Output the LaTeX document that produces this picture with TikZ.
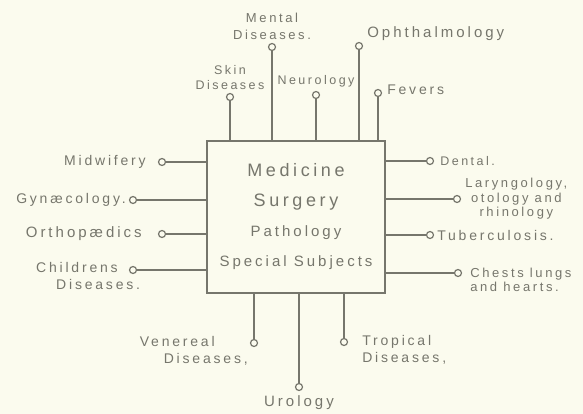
\documentclass[tikz,border=0pt]{standalone}
\usepackage{fontspec}
\setmainfont[LetterSpace=20]{Liberation Sans}
\usetikzlibrary{positioning}
\definecolor{paper}{RGB}{251,251,238}
\definecolor{ink}{RGB}{118,118,108}

\begin{document}
\begin{tikzpicture}[
  x=1pt, y=-1pt,
  node distance=2pt,
  every node/.style={text=ink},
  core/.style={draw=ink, line width=1.4pt, minimum width=178pt, minimum height=152pt, align=center, inner sep=0pt, font=\fontsize{18}{30}\selectfont},
  knob/.style={draw=ink, fill=paper, circle, line width=1.2pt, inner sep=0pt, minimum size=7pt},
  wire/.style={draw=ink, line width=1.4pt},
  big/.style={font=\fontsize{15}{18}\selectfont, inner sep=0pt},
  mid/.style={font=\fontsize{14}{17}\selectfont, inner sep=0pt},
  small/.style={font=\fontsize{12.5}{15}\selectfont, inner sep=0pt},
]
  \fill[paper, use as bounding box] (0,0) rectangle (583,414);
  % the four main subjects
  \node[core] (core) at (296,217) {Medicine\\Surgery\\{\fontsize{15}{30}\selectfont Pathology}\\{\fontsize{15}{30}\selectfont Special Subjects}};
  % top branches
  \node[knob] (skin)   at (230,97) {};
  \node[knob] (mental) at (272,47) {};
  \node[knob] (neuro)  at (316,95) {};
  \node[knob] (ophth)  at (359,46) {};
  \node[knob] (fevers) at (378,93) {};
  \node[small, align=center, above=3pt of skin] (skinT) {Skin\\Diseases};
  \node[small, align=center, above=3pt of mental, font=\fontsize{13}{17}\selectfont] (mentalT) {Mental\\Diseases.};
  \node[small, above=4pt of neuro] (neuroT) {Neurology};
  \node[big, right=4pt of ophth, yshift=12pt] (ophthT) {Ophthalmology};
  \node[mid, right=5pt of fevers, yshift=3pt] (feversT) {Fevers};
  % left branches
  \node[knob] (midwif) at (162,162) {};
  \node[knob] (gynae)  at (133,200) {};
  \node[knob] (ortho)  at (162,234) {};
  \node[knob] (child)  at (133,270) {};
  \node[mid, left=12pt of midwif] (midwifT) {Midwifery};
  \node[mid, left=3pt of gynae] (gynaeT) {Gynæcology.};
  \node[big, left=16pt of ortho] (orthoT) {Orthopædics};
  \node[mid, align=left, anchor=north west] (childT) at (36,262) {Childrens\\\hspace*{20pt}Diseases.};
  % right branches
  \node[knob] (dental) at (430,161) {};
  \node[knob] (laryn)  at (457,199) {};
  \node[knob] (tuber)  at (430,235) {};
  \node[knob] (chest)  at (458,273) {};
  \node[small, right=6pt of dental] (dentalT) {Dental.};
  \node[small, align=center, right=4pt of laryn, font=\fontsize{13}{14.5}\selectfont] (larynT) {Laryngology,\\otology and\\rhinology};
  \node[mid, right=3pt of tuber] (tuberT) {Tuberculosis.};
  \node[small, align=left, right=8pt of chest, yshift=-7pt, font=\fontsize{13}{14}\selectfont] (chestT) {Chests lungs\\and hearts.};
  % bottom branches
  \node[knob] (vener)  at (254,343) {};
  \node[knob] (urol)   at (299,387) {};
  \node[knob] (tropic) at (344,342) {};
  \node[mid, align=left, left=2pt of vener, yshift=-8pt] (venerT) {Venereal\\\hspace*{24pt}Diseases,};
  \node[big, below=4pt of urol] (urolT) {Urology};
  \node[mid, align=left, right=14pt of tropic, yshift=-8pt] (tropicT) {Tropical\\Diseases,};
  % connectors
  \foreach \k in {skin,mental,neuro,ophth,fevers}
    \draw[wire] (\k) -- (\k |- core.north);
  \foreach \k in {midwif,gynae,ortho,child}
    \draw[wire] (\k) -- (\k -| core.west);
  \foreach \k in {dental,laryn,tuber,chest}
    \draw[wire] (\k) -- (\k -| core.east);
  \foreach \k in {vener,urol,tropic}
    \draw[wire] (\k) -- (\k |- core.south);
\end{tikzpicture}
\end{document}
